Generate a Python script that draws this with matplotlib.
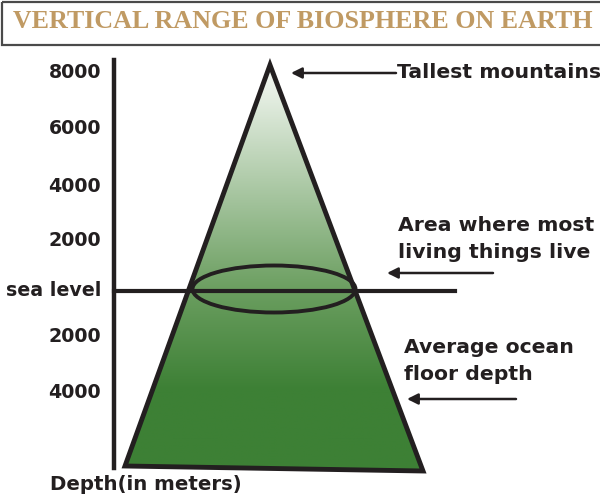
import numpy as np
import matplotlib
matplotlib.use('Agg')
import matplotlib.pyplot as plt
from matplotlib.patches import Polygon, Ellipse, Rectangle
from matplotlib.colors import LinearSegmentedColormap

TITLE = 'VERTICAL RANGE OF BIOSPHERE ON EARTH'
tick_labels = ['8000', '6000', '4000', '2000', 'sea level', '2000', '4000']
tick_y = [73, 128, 187, 241, 291, 337, 393]

# cone outline (apex, bottom-right, bottom-left)
cone_x = [270, 423, 125]
cone_y = [65, 471, 466]

notes = ['Tallest mountains', 'Area where most\nliving things live', 'Average ocean\nfloor depth']
note_xy = [(397, 73), (398, 239), (404, 361)]
arrow_from = [(396, 73), (493, 273), (516, 399)]
arrow_to = [(291, 73), (387, 273), (407, 399)]

W, H = 600, 504
fig = plt.figure(figsize=(W / 100, H / 100), dpi=100)
ax = fig.add_axes([0, 0, 1, 1])
ax.set_xlim(0, W)
ax.set_ylim(H, 0)
ax.axis('off')

sans = ['DejaVu Sans']
FS = 13.7

# title box
ax.add_patch(Rectangle((1.5, 1.5), W, 43, fill=False, ec='#4a4a4a', lw=1.6))
ax.text(303, 21, TITLE, ha='center', va='center', color='#c09a63',
        fontsize=18.7, fontweight='bold', family=['Liberation Serif', 'DejaVu Serif'])

# gradient filled cone
cmap = LinearSegmentedColormap.from_list('g', [(0, '#f7faf6'), (0.55, '#6c9f61'),
                                               (0.80, '#3d8035'), (1, '#3d8035')])
grad = np.linspace(0, 1, 256).reshape(-1, 1)
img = ax.imshow(grad, cmap=cmap, extent=[min(cone_x), max(cone_x), max(cone_y), min(cone_y)],
                aspect='auto', zorder=1)
cone = Polygon(list(zip(cone_x, cone_y)), closed=True, fill=False, ec='#231f20', lw=3.5,
               joinstyle='miter', zorder=3)
ax.add_patch(cone)
img.set_clip_path(cone)

# vertical scale + sea level
ax.plot([114, 114], [60, 468], color='#231f20', lw=3.2, zorder=2)
ax.plot([114, 455], [291, 291], color='#231f20', lw=3, zorder=4)
for lab, y in zip(tick_labels, tick_y):
    ax.text(101, y, lab, ha='right', va='center', fontsize=FS, fontweight='bold',
            color='#231f20', family=sans)

# zone of life
ax.add_patch(Ellipse((274, 289), 163, 47, fill=False, ec='#231f20', lw=2.8, zorder=4))

# annotations
for txt, (x, y) in zip(notes, note_xy):
    ax.text(x, y, txt, ha='left', va='center', fontsize=14.7, fontweight='bold',
            color='#231f20', family=sans, linespacing=1.5)
for (x0, y0), (x1, y1) in zip(arrow_from, arrow_to):
    ax.annotate('', xy=(x1, y1), xytext=(x0, y0),
                arrowprops=dict(arrowstyle='-|>', color='#231f20', lw=1.8,
                                mutation_scale=16, shrinkA=0, shrinkB=0))

ax.text(50, 485, 'Depth(in meters)', ha='left', va='center', fontsize=14.2,
        fontweight='bold', color='#231f20', family=sans)

plt.savefig('out.png', dpi=100)
